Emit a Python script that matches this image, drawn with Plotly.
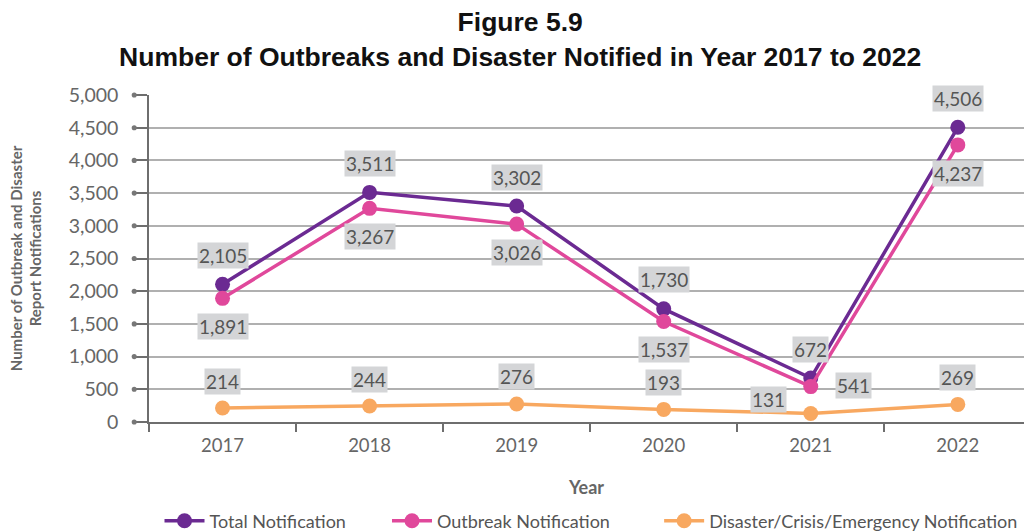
import plotly.graph_objects as go

years = ["2017", "2018", "2019", "2020", "2021", "2022"]
total = [2105, 3511, 3302, 1730, 672, 4506]
outbreak = [1891, 3267, 3026, 1537, 541, 4237]
disaster = [214, 244, 276, 193, 131, 269]
y_ticks = [0, 500, 1000, 1500, 2000, 2500, 3000, 3500, 4000, 4500, 5000]
Y_MAX = 5000

series = [
    ("Total Notification", total, "#6b2a92"),
    ("Outbreak Notification", outbreak, "#e0489b"),
    ("Disaster/Crisis/Emergency Notification", disaster, "#f8a860"),
]
legend_ids = ["legend", "legend2", "legend3"]
legend_x = [0.012, 0.272, 0.583]

# label offsets (px) per series: (xshift, yshift) per point
label_offsets = {
    "Total Notification": [(0, 29)] * 6,
    "Outbreak Notification": [(0, -28), (0, -28), (0, -28), (0, -28), (43, 1), (0, -29)],
    "Disaster/Crisis/Emergency Notification": [(0, 27), (0, 27), (0, 27), (0, 27), (-42, 14), (0, 27)],
}

LBL_FONT = "Lato, 'DejaVu Sans', sans-serif"

fig = go.Figure()
for (name, vals, col), lg in zip(series, legend_ids):
    fig.add_trace(go.Scatter(
        x=years, y=vals, name=name, mode="lines+markers",
        line=dict(color=col, width=3.5),
        marker=dict(color=col, size=15),
        legend=lg,
    ))

annotations = []
for name, vals, col in series:
    for i, v in enumerate(vals):
        dx, dy = label_offsets[name][i]
        annotations.append(dict(
            x=i, y=v, xref="x", yref="y", text=f"{v:,}", showarrow=False,
            xshift=dx, yshift=dy,
            bgcolor="#d4d5d7", borderpad=1,
            font=dict(family=LBL_FONT, size=19, color="#555555"),
        ))

# small dots at the end of the y tick marks
shapes = [dict(type="circle", xref="paper", yref="paper", layer="above",
               x0=-0.0198, x1=-0.0140, y0=t / Y_MAX - 0.0078, y1=t / Y_MAX + 0.0078,
               fillcolor="#777777", line=dict(width=0))
          for t in y_ticks]

legend_common = dict(
    orientation="h", y=-0.303, yanchor="middle", xanchor="left",
    font=dict(family=LBL_FONT, size=18, color="#555555"),
    bgcolor="rgba(0,0,0,0)", itemwidth=40,
)

fig.update_layout(
    width=1024, height=532,
    margin=dict(l=149, r=0, t=95, b=110, autoexpand=False),
    paper_bgcolor="white", plot_bgcolor="white",
    title=dict(
        text="Figure 5.9<br>Number of Outbreaks and Disaster Notified in Year 2017 to 2022",
        x=0.508, xanchor="center", xref="container",
        y=0.941, yanchor="middle", yref="container",
        font=dict(family="'Liberation Sans', Arial, sans-serif", size=26.5, color="#111111", weight="bold"),
    ),
    showlegend=True,
    legend=dict(x=legend_x[0], **legend_common),
    legend2=dict(x=legend_x[1], **legend_common),
    legend3=dict(x=legend_x[2], **legend_common),
    annotations=annotations,
    shapes=shapes,
)

fig.update_xaxes(
    type="category", range=[-0.5, 5.45], automargin=False,
    showline=True, linecolor="#6e6e6e", linewidth=1.5,
    ticks="outside", tickson="boundaries", ticklen=8, tickcolor="#6e6e6e", tickwidth=1.5,
    ticklabelstandoff=6,
    tickfont=dict(family=LBL_FONT, size=18.5, color="#666666"),
    showgrid=False,
    title=dict(text="<b>Year</b>", font=dict(family=LBL_FONT, size=18, color="#666666"), standoff=26),
)
fig.update_yaxes(
    range=[0, Y_MAX], tickvals=y_ticks, tickformat=",", automargin=False,
    showline=True, linecolor="#6e6e6e", linewidth=1.5,
    ticks="outside", ticklen=15, tickcolor="#6e6e6e", tickwidth=1.5,
    ticklabelstandoff=10,
    tickfont=dict(family=LBL_FONT, size=19.5, color="#666666"),
    showgrid=True, gridcolor="#b0b0b0", gridwidth=1.5,
    zeroline=False,
    title=dict(text="<b>Number of Outbreak and Disaster<br>Report Notifications</b>",
               font=dict(family=LBL_FONT, size=15, color="#666666"), standoff=23),
)

fig.write_html("out.html", config={"displayModeBar": False},
               post_script="document.body.style.margin='0';")
